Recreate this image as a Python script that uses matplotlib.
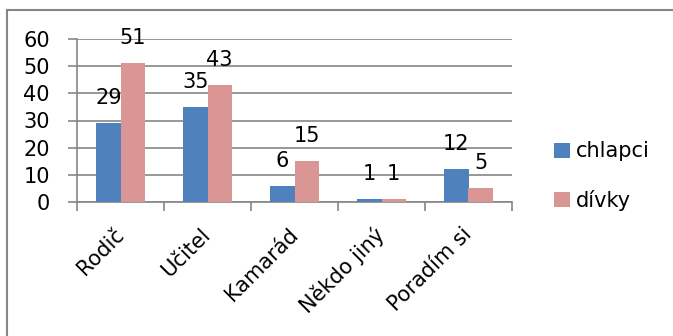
import matplotlib
matplotlib.use("Agg")
import matplotlib.pyplot as plt
from matplotlib.lines import Line2D
import numpy as np

categories = ["Rodič", "Učitel", "Kamarád", "Někdo jiný", "Poradím si"]
chlapci = [29, 35, 6, 1, 12]
divky = [51, 43, 15, 1, 5]
series_names = ["chlapci", "dívky"]

blue = "#4F81BD"
pink = "#D99694"
grey = "#868686"

plt.rcParams["font.family"] = ["DejaVu Sans"]
plt.rcParams["font.size"] = 15

W, H = 673, 336
fig = plt.figure(figsize=(W / 100, H / 100), dpi=100)
ax = fig.add_axes([77 / W, 1 - 202 / H, (512 - 77) / W, (202 - 39) / H])

x = np.arange(len(categories))
bw = 0.28
b1 = ax.bar(x - bw / 2, chlapci, bw, color=blue, label=series_names[0], zorder=3)
b2 = ax.bar(x + bw / 2, divky, bw, color=pink, label=series_names[1], zorder=3)

# value labels sit a fixed distance above each bar
for bars, vals in ((b1, chlapci), (b2, divky)):
    for r, v in zip(bars, vals):
        ax.annotate(str(v), (r.get_x() + r.get_width() / 2, v),
                    xytext=(0, 18), textcoords="offset points",
                    ha="center", va="center", fontsize=15, zorder=4)

ax.set_xlim(-0.5, len(categories) - 0.5)
ax.set_ylim(0, 60)
ax.set_yticks(range(0, 61, 10))
ax.yaxis.grid(True, color=grey, linewidth=1.2, zorder=0)
ax.tick_params(axis="y", length=6.5, width=1.2, color=grey, pad=13)

# category boundaries get the tick marks, names go in the middle
ax.set_xticks(np.arange(-0.5, len(categories)), minor=False)
ax.set_xticklabels([""] * (len(categories) + 1))
ax.set_xticks(x, minor=True)
ax.set_xticklabels(categories, minor=True, rotation=45, ha="right",
                   va="center", rotation_mode="anchor")
ax.tick_params(axis="x", which="major", length=6.5, width=1.2, color=grey)
ax.tick_params(axis="x", which="minor", length=0, pad=21)

for s in ("top", "right"):
    ax.spines[s].set_visible(False)
for s in ("left", "bottom"):
    ax.spines[s].set_color(grey)
    ax.spines[s].set_linewidth(1.2)

ax.legend(loc="center left", bbox_to_anchor=(544 / W, 1 - 176 / H),
          bbox_transform=fig.transFigure, frameon=False, fontsize=15,
          handlelength=0.75, handleheight=0.75, handletextpad=0.3,
          labelspacing=1.35, borderpad=0)

# chart frame (only top and left edges fall inside the image)
fig.add_artist(Line2D([7 / W, 1], [1 - 10 / H, 1 - 10 / H],
                      transform=fig.transFigure, color=grey, linewidth=1.5))
fig.add_artist(Line2D([7 / W, 7 / W], [0, 1 - 10 / H],
                      transform=fig.transFigure, color=grey, linewidth=1.5))

fig.savefig("out.png", dpi=100)
